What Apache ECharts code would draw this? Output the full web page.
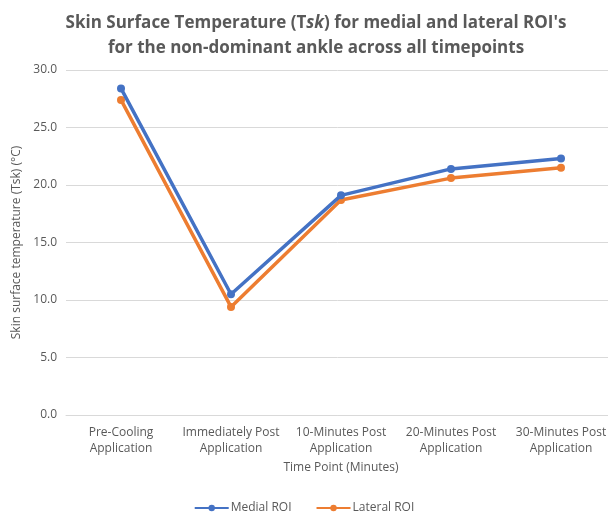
<!DOCTYPE html>
<html>
<head>
<meta charset="utf-8">
<script src="https://cdn.jsdelivr.net/npm/echarts@6/dist/echarts.min.js"></script>
<style>
  html, body { margin: 0; padding: 0; background: #fff; }
  #main { width: 608px; height: 517px; }
</style>
</head>
<body>
<div id="main"></div>
<script>
var categories = ['Pre-Cooling\nApplication', 'Immediately Post\nApplication', '10-Minutes Post\nApplication', '20-Minutes Post\nApplication', '30-Minutes Post\nApplication'];
var medial = [28.4, 10.5, 19.1, 21.4, 22.3];
var lateral = [27.4, 9.4, 18.7, 20.6, 21.5];
var seriesNames = ['Medial ROI', 'Lateral ROI'];

var chart = echarts.init(document.getElementById('main'));
var font = '"Open Sans", "Noto Sans", sans-serif';

chart.setOption({
  backgroundColor: '#fff',
  color: ['#4472C4', '#ED7D31'],
  title: {
    left: 311,
    textAlign: 'center',
    top: 6,
    text: "Skin Surface Temperature (T{i|sk}) for medial and lateral ROI's\nfor the non-dominant ankle across all timepoints",
    textStyle: {
      fontFamily: font,
      fontSize: 17,
      fontWeight: 'bold',
      color: '#595959',
      lineHeight: 25,
      rich: {
        i: { fontFamily: font, fontSize: 17, fontWeight: 'bold', fontStyle: 'italic', color: '#595959' }
      }
    }
  },
  legend: {
    bottom: -2,
    left: 'center',
    itemWidth: 34,
    itemHeight: 8,
    itemGap: 24,
    textStyle: { color: '#595959', fontFamily: font, fontSize: 12, padding: [0, 0, 0, -3] },
    data: seriesNames
  },
  grid: {
    left: 66,
    width: 550,
    top: 70,
    bottom: 102,
    outerBoundsMode: 'none',
    containLabel: false
  },
  xAxis: {
    type: 'category',
    data: categories,
    boundaryGap: true,
    name: 'Time Point (Minutes)',
    nameLocation: 'middle',
    nameGap: 39,
    nameTextStyle: { color: '#595959', fontFamily: font, fontSize: 12 },
    axisLine: { lineStyle: { color: '#d9d9d9' } },
    axisTick: { show: false },
    axisLabel: {
      color: '#595959',
      fontFamily: font,
      fontSize: 12,
      lineHeight: 16,
      margin: 10,
      interval: 0
    }
  },
  yAxis: {
    type: 'value',
    min: 0,
    max: 30,
    interval: 5,
    name: 'Skin surface temperature (Tsk) (°C)',
    nameLocation: 'middle',
    nameGap: 43,
    nameTextStyle: { color: '#595959', fontFamily: font, fontSize: 12 },
    axisLine: { show: false },
    axisTick: { show: false },
    axisLabel: {
      color: '#595959',
      fontFamily: font,
      fontSize: 12,
      margin: 9,
      formatter: function (v) { return v.toFixed(1); }
    },
    splitLine: { lineStyle: { color: '#d9d9d9' } }
  },
  series: [{
    name: seriesNames[0],
    type: 'line',
    data: medial,
    symbol: 'circle',
    symbolSize: 8,
    lineStyle: { width: 3.5 },
    z: 3
  }, {
    name: seriesNames[1],
    type: 'line',
    data: lateral,
    symbol: 'circle',
    symbolSize: 8,
    lineStyle: { width: 3.5 },
    z: 2
  }]
});
</script>
</body>
</html>
